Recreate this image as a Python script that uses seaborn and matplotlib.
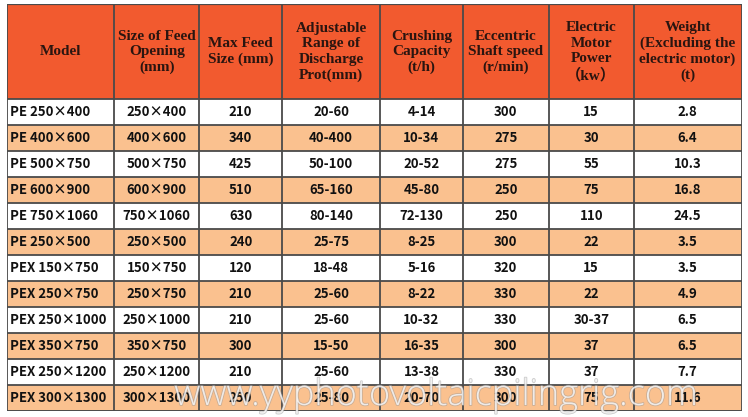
"""
PE / PEX jaw crusher spec table, drawn as a seaborn heatmap of cell shading
with the values written on top.
"""

import numpy as np
import matplotlib
matplotlib.use("Agg")
import matplotlib.pyplot as plt
import matplotlib.patheffects as pe
from matplotlib.colors import ListedColormap
import seaborn as sns

# ── data ──────────────────────────────────────────────────────────────────────

headers = [
    "Model",
    "Size of Feed\nOpening\n(mm)",
    "Max Feed\nSize (mm)",
    "Adjustable\nRange of\nDischarge\nProt(mm)",
    "Crushing\nCapacity\n(t/h)",
    "Eccentric\nShaft speed\n(r/min)",
    "Electric\nMotor\nPower\n（kw）",
    "Weight\n(Excluding the\nelectric motor)\n(t)",
]
models = ["PE 250×400", "PE 400×600", "PE 500×750", "PE 600×900",
          "PE 750×1060", "PE 250×500", "PEX 150×750", "PEX 250×750",
          "PEX 250×1000", "PEX 350×750", "PEX 250×1200", "PEX 300×1300"]
feed_opening = ["250×400", "400×600", "500×750", "600×900", "750×1060",
                "250×500", "150×750", "250×750", "250×1000", "350×750",
                "250×1200", "300×1300"]
max_feed = ["210", "340", "425", "510", "630", "240", "120", "210", "210",
            "300", "210", "250"]
discharge = ["20-60", "40-400", "50-100", "65-160", "80-140", "25-75",
             "18-48", "25-60", "25-60", "15-50", "25-60", "25-80"]
capacity = ["4-14", "10-34", "20-52", "45-80", "72-130", "8-25", "5-16",
            "8-22", "10-32", "16-35", "13-38", "20-70"]
shaft_speed = ["300", "275", "275", "250", "250", "300", "320", "330", "330",
               "300", "330", "300"]
motor_power = ["15", "30", "55", "75", "110", "22", "15", "22", "30-37",
               "37", "37", "75"]
weight = ["2.8", "6.4", "10.3", "16.8", "24.5", "3.5", "3.5", "4.9", "6.5",
          "6.5", "7.7", "11.6"]

watermark = "www.yyphotovoltaicpilingrig.com"

# ── layout (pixel units of the table) ─────────────────────────────────────────

col_edges = [0, 107, 192, 275, 373, 456, 542, 627, 735]
header_h = 95
row_h = 26
n_rows = len(models)
total_h = header_h + n_rows * row_h

HEADER = "#F25A2F"
STRIPE = "#FAC18F"
WHITE = "#FFFFFF"
LINE = "#4a4a4a"

sns.set_style("white")

# cell shade per pixel: 0 white, 1 stripe, 2 header
shade = np.zeros((total_h, col_edges[-1]))
shade[:header_h, :] = 2
for i in range(n_rows):
    if i % 2 == 1:
        top = header_h + i * row_h
        shade[top:top + row_h, :] = 1

fig = plt.figure(figsize=(7.48, 4.17), dpi=100)
ax = fig.add_axes([7 / 748, 6 / 417, 735 / 748, total_h / 417])
sns.heatmap(shade, cmap=ListedColormap([WHITE, STRIPE, HEADER]), vmin=0, vmax=2,
            cbar=False, xticklabels=False, yticklabels=False, ax=ax,
            rasterized=True)

# grid lines
for x in col_edges:
    ax.axvline(x, color=LINE, lw=1.3)
ax.axhline(0, color=LINE, lw=1.6)
for i in range(n_rows + 1):
    ax.axhline(header_h + i * row_h, color=LINE, lw=1.3)
ax.axhline(total_h, color=LINE, lw=1.8)

# header text
for j, label in enumerate(headers):
    cx = (col_edges[j] + col_edges[j + 1]) / 2
    ax.text(cx, header_h / 2, label, ha="center", va="center",
            family=["Liberation Serif", "Noto Sans CJK SC"], weight="bold",
            fontsize=11, linespacing=1.25, color="#2a1510")

# body text
columns = [models, feed_opening, max_feed, discharge, capacity,
           shaft_speed, motor_power, weight]
body_font = ["Noto Sans CJK SC", "DejaVu Sans"]
for j, col in enumerate(columns):
    for i, val in enumerate(col):
        cy = header_h + i * row_h + row_h / 2
        if j == 0:
            ax.text(col_edges[0] + 3, cy, val, ha="left", va="center",
                    family=body_font, weight="bold", fontsize=9.5, color="#111111")
        else:
            cx = (col_edges[j] + col_edges[j + 1]) / 2
            ax.text(cx, cy, val, ha="center", va="center",
                    family=body_font, weight="bold", fontsize=9.5, color="#111111")

# watermark
ax.text(167, total_h - 15, watermark, ha="left", va="center",
        family="Open Sans", weight="light", fontsize=26, color="white",
        alpha=0.7,
        path_effects=[pe.withStroke(linewidth=1.2, foreground="#9a9a9a", alpha=0.5)])

ax.set_xlim(-0.5, col_edges[-1] + 0.5)
ax.set_ylim(total_h + 0.5, -0.5)
for s in ax.spines.values():
    s.set_visible(False)

fig.savefig("out.png", dpi=100)
plt.close(fig)
